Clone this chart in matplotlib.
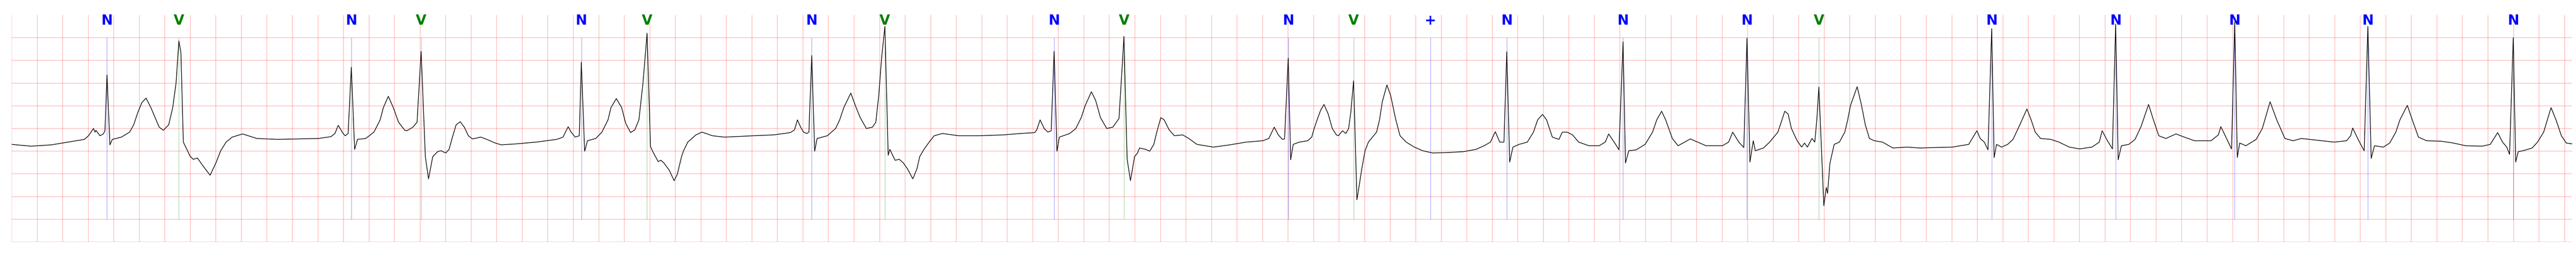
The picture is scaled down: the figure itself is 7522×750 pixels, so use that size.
import matplotlib
matplotlib.use("Agg")
import matplotlib.pyplot as plt
import numpy as np

# ECG trace: time in seconds, amplitude in mV
t_0_5 = [0.0, 0.152, 0.313, 0.570, 0.602, 0.641, 0.654, 0.660, 0.692, 0.718, 0.731, 0.747,
         0.770, 0.789, 0.860, 0.924, 0.956, 0.988, 1.020, 1.053, 1.091, 1.124, 1.156, 1.188,
         1.230, 1.262, 1.288, 1.310, 1.326, 1.345, 1.400, 1.423, 1.455, 1.503, 1.555, 1.600,
         1.638, 1.680, 1.728, 1.809, 1.921, 2.082, 2.243, 2.404, 2.501, 2.533, 2.558, 2.597,
         2.613, 2.636, 2.661, 2.687, 2.710, 2.774, 2.838, 2.887, 2.912, 2.951, 2.990, 3.031,
         3.080, 3.096, 3.144, 3.176, 3.208, 3.241, 3.266, 3.299, 3.337, 3.363, 3.401, 3.427,
         3.450, 3.482, 3.514, 3.546, 3.578, 3.610, 3.675, 3.723, 3.788, 3.836, 3.949, 4.109,
         4.270, 4.319, 4.360, 4.383, 4.415, 4.447, 4.463, 4.489, 4.511, 4.576, 4.624, 4.672,
         4.695, 4.737, 4.779, 4.811, 4.849, 4.882, 4.914, 4.946, 4.978, 4.990]
mv_0_5 = [-0.35, -0.39, -0.36, -0.24, -0.16, 0.0, -0.08, -0.04, -0.16, -0.12, -0.05, 1.18,
          -0.36, -0.24, -0.19, -0.08, 0.08, 0.35, 0.57, 0.67, 0.46, 0.24, 0.03, -0.04,
          0.08, 0.46, 1.0, 1.93, 1.68, -0.30, -0.62, -0.68, -0.65, -0.84, -1.03, -0.76,
          -0.49, -0.30, -0.19, -0.12, -0.22, -0.24, -0.23, -0.22, -0.18, -0.11, 0.07, -0.11,
          -0.16, -0.11, 1.35, -0.46, -0.24, -0.22, -0.08, 0.19, 0.46, 0.71, 0.46, 0.14,
          -0.04, -0.05, 0.03, 0.14, 1.70, -0.62, -1.11, -0.62, -0.51, -0.49, -0.54, -0.46,
          -0.22, 0.08, 0.15, 0.03, -0.16, -0.23, -0.19, -0.24, -0.32, -0.36, -0.34, -0.30,
          -0.24, -0.19, 0.04, -0.08, -0.19, -0.16, 1.46, -0.50, -0.27, -0.22, -0.08, 0.19,
          0.46, 0.66, 0.46, 0.11, -0.09, -0.03, 0.19, 1.0, 2.10, 1.0]

t_5_10 = [5.005, 5.023, 5.065, 5.087, 5.110, 5.152, 5.190, 5.216, 5.248, 5.264, 5.297, 5.329,
          5.361, 5.409, 5.490, 5.586, 5.811, 5.972, 6.101, 6.133, 6.156, 6.181, 6.204, 6.230,
          6.246, 6.268, 6.291, 6.310, 6.390, 6.455, 6.487, 6.519, 6.574, 6.616, 6.648, 6.696,
          6.744, 6.770, 6.793, 6.815, 6.841, 6.867, 6.880, 6.921, 6.954, 6.986, 7.018, 7.060,
          7.092, 7.114, 7.147, 7.188, 7.227, 7.291, 7.420, 7.581, 7.774, 7.903, 8.015, 8.031,
          8.057, 8.089, 8.118, 8.144, 8.167, 8.189, 8.208, 8.289, 8.337, 8.379, 8.411, 8.459,
          8.492, 8.530, 8.579, 8.627, 8.675, 8.698, 8.714, 8.723, 8.739, 8.765, 8.797, 8.820,
          8.836, 8.884, 8.916, 8.948, 8.971, 9.003, 9.029, 9.068, 9.109, 9.174, 9.222, 9.286,
          9.415, 9.544, 9.672, 9.801, 9.849, 9.891, 9.923, 9.955, 9.972, 10.001, 10.020]
mv_5_10 = [-0.40, -0.51, -0.73, -0.70, -0.76, -0.92, -1.15, -1.00, -0.62, -0.49, -0.30, -0.22,
           -0.14, -0.08, -0.16, -0.19, -0.16, -0.14, -0.09, -0.03, 0.19, 0.03, -0.08, -0.11,
           -0.08, 1.61, -0.50, -0.22, -0.16, 0.0, 0.19, 0.46, 0.78, 0.46, 0.24, 0.0,
           0.03, 0.14, 0.73, 1.54, 2.25, -0.59, -0.46, -0.70, -0.68, -0.76, -0.89, -1.11,
           -0.89, -0.62, -0.46, -0.30, -0.16, -0.11, -0.16, -0.16, -0.14, -0.11, -0.09, -0.03,
           0.19, 0.0, -0.08, -0.05, 1.70, -0.50, -0.19, -0.11, 0.0, 0.24, 0.51, 0.81,
           0.62, 0.24, 0.0, 0.03, 0.22, 1.27, 2.03, 1.0, -0.68, -1.15, -0.62, -0.54,
           -0.43, -0.46, -0.50, -0.35, -0.08, 0.24, 0.19, -0.03, -0.16, -0.14, -0.22, -0.35,
           -0.41, -0.36, -0.30, -0.27, -0.22, 0.03, -0.14, -0.24, -0.23, 1.55, -0.69]

t_10_15 = [10.040, 10.088, 10.153, 10.185, 10.201, 10.227, 10.256, 10.281, 10.314, 10.346,
           10.378, 10.394, 10.426, 10.452, 10.474, 10.491, 10.513, 10.539, 10.558, 10.577,
           10.603, 10.629, 10.661, 10.693, 10.716, 10.738, 10.774, 10.803, 10.844, 10.877,
           10.925, 10.989, 11.054, 11.134, 11.247, 11.375, 11.472, 11.536, 11.585, 11.623,
           11.658, 11.691, 11.713, 11.736, 11.761, 11.810, 11.874, 11.922, 11.955, 11.993,
           12.025, 12.070, 12.122, 12.148, 12.186, 12.228, 12.276, 12.357, 12.437, 12.485,
           12.511, 12.566, 12.592, 12.624, 12.643, 12.669, 12.727, 12.797, 12.855, 12.888,
           12.926, 12.958, 13.010, 13.055, 13.106, 13.151, 13.209, 13.274, 13.402, 13.451,
           13.483, 13.531, 13.570, 13.595, 13.618, 13.644, 13.660, 13.724, 13.772, 13.837,
           13.869, 13.891, 13.917, 13.943, 13.988, 14.023, 14.046, 14.068, 14.104, 14.126,
           14.142, 14.158, 14.181, 14.197, 14.216, 14.226, 14.245, 14.278, 14.319, 14.361,
           14.384, 14.406, 14.458, 14.490, 14.522, 14.554, 14.593, 14.657, 14.738, 14.850,
           14.947]
mv_10_15 = [-0.35, -0.30, -0.27, -0.19, -0.03, 0.19, 0.41, 0.53, 0.32, 0.0,
            -0.14, -0.16, -0.05, -0.11, 0.0, 0.35, 1.05, -1.57, -1.24, -0.89,
            -0.49, -0.30, -0.19, -0.08, 0.19, 0.59, 0.96, 0.73, 0.19, -0.16,
            -0.30, -0.41, -0.49, -0.54, -0.53, -0.51, -0.46, -0.38, -0.30, -0.07,
            -0.30, -0.30, 1.69, -0.74, -0.41, -0.35, -0.30, -0.08, 0.19, 0.31,
            0.19, -0.19, -0.24, -0.08, -0.08, -0.14, -0.30, -0.38, -0.38, -0.30,
            -0.12, -0.35, -0.47, 1.91, -0.76, -0.49, -0.47, -0.35, -0.08, 0.19,
            0.38, 0.19, -0.22, -0.38, -0.30, -0.23, -0.30, -0.38, -0.38, -0.30,
            -0.08, -0.30, -0.42, 1.99, -0.74, -0.27, -0.49, -0.43, -0.30, -0.08,
            0.19, 0.38, 0.32, 0.0, -0.27, -0.41, -0.32, -0.41, -0.22, -0.30,
            0.19, 0.91, -0.62, -1.70, -1.30, -1.43, -0.76, -0.35, -0.30, -0.08,
            0.19, 0.51, 0.92, 0.54, 0.08, -0.22, -0.27, -0.30, -0.43, -0.41,
            -0.43]

t_15_20 = [15.069, 15.203, 15.332, 15.396, 15.422, 15.454, 15.483, 15.512, 15.531, 15.550,
           15.589, 15.637, 15.679, 15.724, 15.788, 15.821, 15.853, 15.895, 15.975, 16.039,
           16.120, 16.200, 16.297, 16.355, 16.377, 16.419, 16.458, 16.483, 16.503, 16.528,
           16.586, 16.635, 16.683, 16.741, 16.779, 16.821, 16.876, 16.956, 17.021, 17.101,
           17.230, 17.288, 17.307, 17.352, 17.391, 17.416, 17.436, 17.455, 17.503, 17.584,
           17.632, 17.693, 17.745, 17.809, 17.873, 17.938, 18.066, 18.195, 18.292, 18.324,
           18.340, 18.388, 18.430, 18.459, 18.485, 18.511, 18.581, 18.630, 18.678, 18.710,
           18.768, 18.807, 18.855, 18.919, 19.032, 19.128, 19.225, 19.353, 19.418, 19.476,
           19.514, 19.547, 19.569, 19.598, 19.617, 19.637, 19.675, 19.746, 19.788, 19.836,
           19.894, 19.933, 19.975, 20.013, 20.062]
mv_15_20 = [-0.42, -0.41, -0.35, -0.05, -0.22, -0.30, -0.47, 2.20, -0.64, -0.35,
            -0.41, -0.35, -0.24, 0.03, 0.43, 0.19, -0.08, -0.22, -0.24, -0.30,
            -0.41, -0.45, -0.41, -0.30, -0.05, -0.27, -0.45, 2.30, -0.69, -0.38,
            -0.35, -0.24, 0.05, 0.53, 0.19, -0.16, -0.22, -0.12, -0.19, -0.27,
            -0.27, -0.14, 0.04, -0.22, -0.45, 2.35, -0.64, -0.32, -0.38, -0.24,
            0.0, 0.59, 0.19, -0.22, -0.27, -0.22, -0.26, -0.30, -0.27, -0.16,
            0.01, -0.27, -0.49, 2.25, -0.66, -0.38, -0.41, -0.32, -0.08, 0.19,
            0.51, 0.19, -0.19, -0.27, -0.28, -0.32, -0.38, -0.39, -0.35, -0.09,
            -0.30, -0.41, -0.57, 2.0, -0.74, -0.51, -0.49, -0.43, -0.30, -0.08,
            0.46, 0.19, -0.16, -0.32, -0.34]

# beat annotations
ann_t = [0.747, 1.310, 2.661, 3.208, 4.463, 4.978, 6.268, 6.841, 8.167, 8.714, 10.001,
         10.513, 11.115, 11.713, 12.624, 13.595, 14.158, 15.512, 16.483, 17.416, 18.459, 19.598]
ann_sym = ["N", "V", "N", "V", "N", "V", "N", "V", "N", "V", "N",
           "V", "+", "N", "N", "N", "V", "N", "N", "N", "N", "N"]
sym_colors = {"N": "blue", "V": "green", "+": "blue"}

t = t_0_5 + t_5_10 + t_10_15 + t_15_20
mv = mv_0_5 + mv_5_10 + mv_10_15 + mv_15_20

fig = plt.figure(figsize=(75.22, 7.5), dpi=100)
ax = fig.add_axes([34 / 7522, 44 / 750, (7511 - 34) / 7522, (706 - 44) / 750])

ax.set_xlim(0, 20.06)
ax.set_ylim(-2.5, 2.5)
# ecg paper grid: 0.2 s by 0.5 mV
ax.set_xticks(np.arange(0, 20.01, 0.2))
ax.set_yticks(np.arange(-2.5, 2.01, 0.5))
ax.grid(True, color="red", alpha=0.28, linewidth=1.3)
ax.tick_params(length=0, labelbottom=False, labelleft=False)
for s in ax.spines.values():
    s.set_visible(False)

ax.plot(t, mv, color="black", linewidth=1.4, zorder=3)

for at, sym in zip(ann_t, ann_sym):
    c = sym_colors[sym]
    ax.vlines(at, -2.0, 2.0, colors=c, linewidth=0.8, alpha=0.5, zorder=2)
    ax.text(at, 2.29, sym, color=c, fontsize=29, fontweight="bold",
            family=["Liberation Sans Narrow", "DejaVu Sans"],
            ha="center", va="baseline", zorder=4)

plt.savefig("out.png", dpi=100)
